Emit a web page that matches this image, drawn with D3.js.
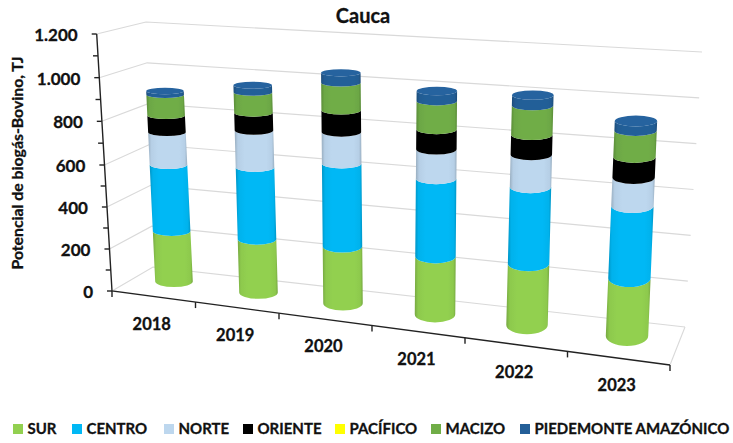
<!DOCTYPE html>
<html><head><meta charset="utf-8">
<script src="https://cdn.jsdelivr.net/npm/d3@7"></script>
<style>html,body{margin:0;padding:0;background:#fff}svg{display:block}text{font-family:Lato,"Open Sans",sans-serif;font-weight:700;fill:#111;stroke:#111;stroke-width:.3}</style>
</head><body><svg id="c" width="733" height="443"></svg>
<script>
const years=["2018","2019","2020","2021","2022","2023"];
const seriesNames=["SUR","CENTRO","NORTE","ORIENTE","PACÍFICO","MACIZO","PIEDEMONTE AMAZÓNICO"];
const seriesColors=["#92D050","#00B8F5","#BDD7EE","#000000","#FFFF00","#70AD47","#245F98"];
const SUR=[239,247,259,257,268,246];
const CENTRO=[314,333,375,345,333,308];
const NORTE=[154,170,142,130,140,121];
const ORIENTE=[80,82,99,88,86,88];
const PACIFICO=[0,0,0,0,0,0];
const MACIZO=[98,96,125,126,127,112];
const PIEDEMONTE=[18,32,45,44,45,40];
const series=[SUR,CENTRO,NORTE,ORIENTE,PACIFICO,MACIZO,PIEDEMONTE];
const yTicks=d3.range(0,1201,200);
const minorTicks=d3.range(0,1201,100);
const fmt=v=>v>=1000?d3.format(",")(v).replace(",","."):String(v);

const svg=d3.select("#c");
// projection scales: left front edge, back-left edge, back-right edge
const lfX=d3.scaleLinear([0,1200],[112,96.7]);
const lfY=d3.scaleLinear([0,600,1200],[291,165,34]);
const blX=d3.scaleLinear([0,1200],[153,146]);
const blY=d3.scaleLinear([0,1200],[267,22]);
const brX=d3.scaleLinear([0,1200],[685,702]);
const brY=d3.scaleLinear([0,1200],[327,52]);
// front floor edge, by category position
const axX=d3.scaleLinear([0,2,4,6],[112,279,465,670]);
const axY=d3.scaleLinear([112,670],[291,365]);
// bar placement, by category index
const cxBase=d3.scaleLinear([0,2,4,5],[174,343,527,627]);
const frontBase=d3.scaleLinear([0,5],[287,346]);
const kScale=d3.scaleLinear([0,5],[.211,.235]);
const leanScale=d3.scaleLinear([0,5],[-.01,.0098]);
const radius=d3.scaleLinear([0,5],[18.8,21.2]);
const ryBottom=d3.scaleLinear([0,5],[5.5,10]);
const ryTop=d3.scaleLinear([0,5],[3,5]);

const grid=svg.append("g").attr("fill","none").attr("stroke","#d9d9d9").attr("stroke-width",1.1);
yTicks.forEach(v=>{
  grid.append("path").attr("d",d3.line()([[lfX(v),lfY(v)],[blX(v),blY(v)],[brX(v),brY(v)]]));
});
grid.append("path").attr("d",d3.line()([[brX(0),brY(0)],[axX(6),axY(axX(6))]]));

const defs=svg.append("defs");
seriesColors.forEach((c,s)=>{
  const g=defs.append("linearGradient").attr("id","g"+s);
  const dk=d3.color(c).darker(.6).formatHex(), md=d3.color(c).darker(.1).formatHex();
  [[0,dk],[.08,md],[.25,c],[.8,c],[.94,md],[1,dk]].forEach(([o,k])=>g.append("stop").attr("offset",o).attr("stop-color",k));
});
defs.append("filter").attr("id","soft").append("feGaussianBlur").attr("stdDeviation",.45);

const bars=svg.append("g").attr("filter","url(#soft)");
years.forEach((yr,i)=>{
  const r=radius(i);
  const ry=v=>ryBottom(i)+(ryTop(i)-ryBottom(i))*v/1000;
  const base=frontBase(i)-ryBottom(i);
  const cy=v=>base-kScale(i)*v;
  const cx=v=>cxBase(i)+leanScale(i)*v;
  let acc=0;
  series.forEach((vals,s)=>{
    const v0=acc,v1=acc+vals[i];acc=v1;
    if(vals[i]<=0)return;
    const d=`M${cx(v0)-r},${cy(v0)}A${r},${ry(v0)} 0 0 0 ${cx(v0)+r},${cy(v0)}L${cx(v1)+r},${cy(v1)}A${r},${ry(v1)} 0 0 1 ${cx(v1)-r},${cy(v1)}Z`;
    bars.append("path").attr("d",d).attr("fill",`url(#g${s})`);
  });
  bars.append("ellipse").attr("cx",cx(acc)).attr("cy",cy(acc)).attr("rx",r).attr("ry",ry(acc))
    .attr("fill",d3.color(seriesColors[6]).brighter(.12).formatHex());
});

// axes
const ax=svg.append("g").attr("stroke","#222").attr("stroke-width",1.4).attr("fill","none");
ax.append("path").attr("d",d3.line()([[lfX(1200),lfY(1200)],[lfX(0),lfY(0)],[axX(6),axY(axX(6))]]));
minorTicks.forEach(v=>ax.append("path").attr("d",d3.line()([[lfX(v)-5,lfY(v)],[lfX(v),lfY(v)]])));
d3.range(0,7).forEach(u=>ax.append("path").attr("d",d3.line()([[axX(u),axY(axX(u))],[axX(u),axY(axX(u))+6]])));

const txt=svg.append("g");
yTicks.forEach(v=>txt.append("text").attr("x",lfX(v)-19).attr("y",lfY(v)+7).attr("text-anchor","end").attr("font-size",17).text(fmt(v)));
years.forEach((yr,i)=>{
  const x=axX(i+.5);
  txt.append("text").attr("x",x-2).attr("y",axY(x)+33).attr("text-anchor","middle").attr("font-size",16.5).text(yr);
});
txt.append("text").attr("x",363).attr("y",23).attr("text-anchor","middle").attr("font-size",20).text("Cauca");
txt.append("text").attr("transform","translate(23,163) rotate(-90)").attr("text-anchor","middle").attr("font-size",15.8).text("Potencial  de biogás-Bovino, TJ");

// legend
const legendSwatchX=[13,72,164,243,335,431,520];
const lg=svg.append("g");
seriesNames.forEach((n,s)=>{
  lg.append("rect").attr("x",legendSwatchX[s]).attr("y",424).attr("width",10).attr("height",10).attr("fill",seriesColors[s]);
  lg.append("text").attr("x",legendSwatchX[s]+14.5).attr("y",434).attr("font-size",15).text(n);
});
</script></body></html>
